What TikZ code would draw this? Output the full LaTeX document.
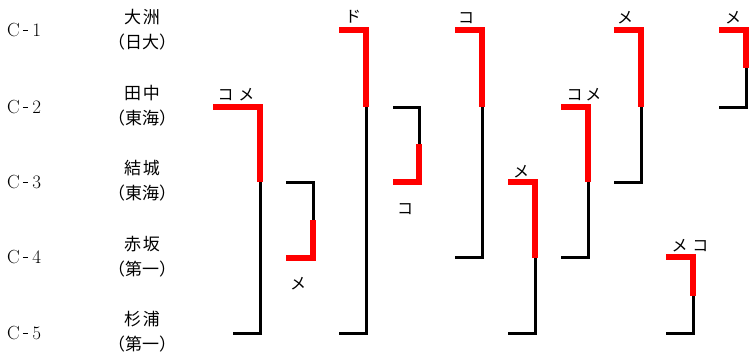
\documentclass[tikz,border=0pt]{standalone}
\usepackage{fontspec}
\newfontfamily\cjk{Noto Sans CJK JP}
\newcommand\cdash{\hspace{3pt}\rule[6pt]{5pt}{0.9pt}\hspace{4.5pt}}
% bracket with red (winner) on top: name, x0 top, xv, ytop, ysplit, ybot, x0 bottom
\newcommand\redtop[7]{%
  \coordinate (#1a) at (#2,#4); \coordinate (#1b) at (#3,#4);
  \coordinate (#1c) at (#3,#5); \coordinate (#1d) at (#3,#6);
  \coordinate (#1e) at (#7,#6);
  \draw[win] (#1a) -- (#1b) -- (#1c);
  \draw[lose] (#1c) -- (#1d) -- (#1e);}
\newcommand\redbot[7]{%
  \coordinate (#1a) at (#2,#4); \coordinate (#1b) at (#3,#4);
  \coordinate (#1c) at (#3,#5); \coordinate (#1d) at (#3,#6);
  \coordinate (#1e) at (#7,#6);
  \draw[lose] (#1a) -- (#1b) -- (#1c);
  \draw[win] (#1c) -- (#1d) -- (#1e);}
\begin{document}
\begin{tikzpicture}[x=1pt,y=-1pt,
  win/.style={draw=red, line width=6pt},
  lose/.style={draw=black, line width=3pt},
  kana/.style={font=\cjk\fontsize{16}{16}\selectfont, inner sep=0pt},
  pname/.style={font=\cjk\fontsize{17}{25}\selectfont, align=center, inner sep=0pt},
  cid/.style={font=\fontsize{19}{19}\selectfont, inner sep=0pt, anchor=west}]
\useasboundingbox (0,0) rectangle (750,360);
% player ids
\node[cid] (c1) at (7,30) {C\cdash1};
\node[cid] (c2) at (7,107) {C\cdash2};
\node[cid] (c3) at (7,182) {C\cdash3};
\node[cid] (c4) at (7,257) {C\cdash4};
\node[cid] (c5) at (7,333) {C\cdash5};
% names
\node[pname] (n1) at (142,30) {大\hspace{2pt}洲\\（日大）};
\node[pname] (n2) at (142,106) {田\hspace{2pt}中\\（東海）};
\node[pname] (n3) at (142,181) {結\hspace{2pt}城\\（東海）};
\node[pname] (n4) at (142,257) {赤\hspace{2pt}坂\\（第一）};
\node[pname] (n5) at (142,332) {杉\hspace{2pt}浦\\（第一）};
% brackets
\redtop{m1}{213}{260}{107}{182}{333}{233}
\redbot{m2}{286}{313}{182}{220}{258}{286}
\redtop{m3}{339}{366}{30}{107}{333}{339}
\redbot{m4}{393}{419}{107}{144}{182}{393}
\redtop{m5}{455}{482}{30}{107}{257}{455}
\redtop{m6}{508}{535}{182}{258}{333}{508}
\redtop{m7}{561}{588}{107}{182}{257}{561}
\redtop{m8}{614}{641}{30}{107}{182}{614}
\redtop{m9}{719}{746}{30}{68}{107}{719}
\redtop{m10}{666}{693}{257}{296}{333}{666}
% scores
\node[kana] (s1) at (236,95) {コ\hspace{5pt}メ};
\node[kana] (s2) at (298,284) {メ};
\node[kana] (s3) at (353,17) {ド};
\node[kana] (s4) at (405,209) {コ};
\node[kana] (s5) at (466,18) {コ};
\node[kana] (s6) at (521,172) {メ};
\node[kana] (s7) at (584,95) {コ\hspace{3pt}メ};
\node[kana] (s8) at (625,18) {メ};
\node[kana] (s9) at (733,18) {メ};
\node[kana] (s10) at (690,246) {メ\hspace{5pt}コ};
\end{tikzpicture}
\end{document}
